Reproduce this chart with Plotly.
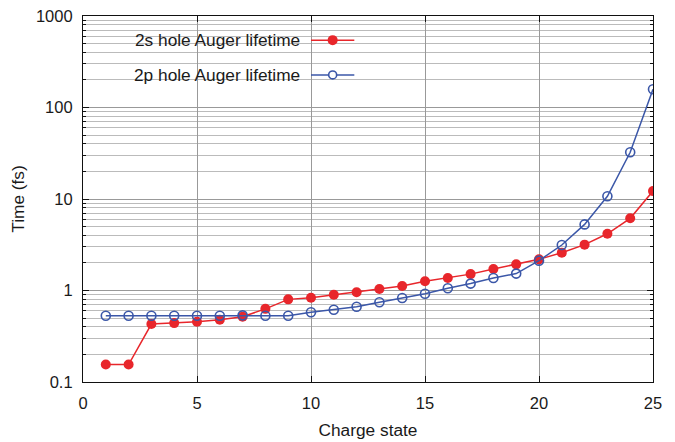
import plotly.graph_objects as go

charge = list(range(1, 26))
life_2s = [0.155, 0.155, 0.43, 0.44, 0.456, 0.48, 0.517, 0.63, 0.80, 0.835, 0.90, 0.955,
           1.04, 1.12, 1.26, 1.37, 1.51, 1.72, 1.93, 2.19, 2.59, 3.17, 4.17, 6.15, 12.2]
life_2p = [0.53, 0.53, 0.53, 0.53, 0.53, 0.53, 0.535, 0.53, 0.53, 0.578, 0.617, 0.665,
           0.745, 0.828, 0.92, 1.06, 1.19, 1.37, 1.53, 2.12, 3.14, 5.28, 10.7, 32.4, 158]
name_2s = "2s hole Auger lifetime"
name_2p = "2p hole Auger lifetime"
RED = "#e8262b"
BLUE = "#3b57a8"
FONT = "Liberation Sans, Arial, sans-serif"
TXT = "#1a1a1a"

fig = go.Figure()
fig.add_trace(go.Scatter(x=charge, y=life_2s, mode="lines+markers", name=name_2s,
                         line=dict(color=RED, width=1.5),
                         marker=dict(symbol="circle", size=10, color=RED)))
fig.add_trace(go.Scatter(x=charge, y=life_2p, mode="lines+markers", name=name_2p,
                         line=dict(color=BLUE, width=1.5),
                         marker=dict(symbol="circle-open", size=9, color=BLUE,
                                     line=dict(width=1.6, color=BLUE))))

# manual legend (gnuplot-like: text left, sample right)
fig.add_shape(type="rect", xref="paper", yref="paper", x0=0.0, x1=0.491, y0=0.79, y1=1.0,
              fillcolor="white", line=dict(width=0), layer="between")
for yy, nm, col, sym in [(0.934, name_2s, RED, "circle"), (0.839, name_2p, BLUE, "circle-open")]:
    fig.add_annotation(xref="paper", yref="paper", x=0.384, y=yy, text=nm, showarrow=False,
                       xanchor="right", yanchor="middle", font=dict(size=17.3, color=TXT, family=FONT))
    fig.add_shape(type="line", xref="paper", yref="paper", x0=0.400, x1=0.476, y0=yy, y1=yy,
                  line=dict(color=col, width=1.5))
    if sym == "circle":
        fig.add_shape(type="circle", xref="paper", yref="paper", x0=0.438 - 0.0088, x1=0.438 + 0.0088,
                      y0=yy - 0.0137, y1=yy + 0.0137, fillcolor=col, line=dict(color=col, width=0))
    else:
        fig.add_shape(type="circle", xref="paper", yref="paper", x0=0.438 - 0.0070, x1=0.438 + 0.0070,
                      y0=yy - 0.0109, y1=yy + 0.0109, fillcolor="white", line=dict(color=col, width=1.6))

fig.update_layout(
    width=675, height=442,
    margin=dict(l=83, r=22, t=16, b=60),
    paper_bgcolor="white", plot_bgcolor="white",
    showlegend=False,
    font=dict(family=FONT, size=16.5, color=TXT),
)
fig.update_xaxes(range=[0, 25], dtick=5, tick0=0, ticks="inside", ticklen=6, tickcolor="#111",
                 showline=True, linecolor="#111", linewidth=1.2, mirror="ticks",
                 showgrid=True, gridcolor="#999", gridwidth=1, zeroline=False,
                 ticklabelstandoff=6, automargin=False,
                 title=dict(text="Charge state", standoff=12, font=dict(size=17.3)))
fig.update_yaxes(type="log", range=[-1, 3],
                 tickvals=[0.1, 1, 10, 100, 1000], ticktext=["0.1", "1", "10", "100", "1000"],
                 ticks="inside", ticklen=6, tickcolor="#111",
                 showline=True, linecolor="#111", linewidth=1.2, mirror="ticks",
                 showgrid=True, gridcolor="#999", gridwidth=1, zeroline=False,
                 ticklabelstandoff=6, automargin=False,
                 minor=dict(tickvals=[m * 10 ** e for e in range(-1, 3) for m in range(2, 10)],
                            ticks="inside", ticklen=3, tickcolor="#111",
                            showgrid=True, gridcolor="#bbb", gridwidth=1),
                 title=dict(text="Time (fs)", standoff=6, font=dict(size=17.3)))

fig.write_html("out.html")
